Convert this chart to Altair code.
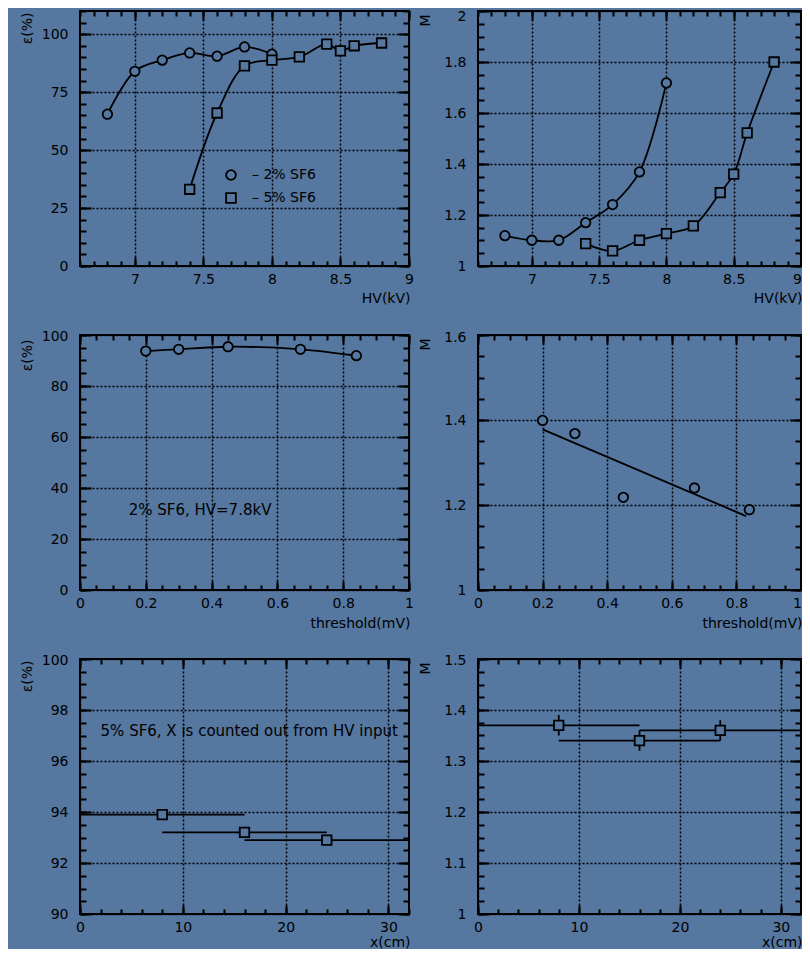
import altair as alt
import pandas as pd

# ---------------- data ----------------
series_names = ["2% SF6", "5% SF6"]

hv_2 = [6.8, 7.0, 7.2, 7.4, 7.6, 7.8, 8.0]
eff_hv_2 = [65.5, 84.0, 88.8, 91.9, 90.5, 94.5, 91.4]
m_hv_2 = [1.119, 1.101, 1.101, 1.170, 1.241, 1.369, 1.718]

hv_5 = [7.4, 7.6, 7.8, 8.0, 8.2, 8.4, 8.5, 8.6, 8.8]
eff_hv_5 = [33.1, 66.0, 86.3, 88.8, 90.2, 95.7, 92.8, 95.0, 96.2]
m_hv_5 = [1.088, 1.059, 1.101, 1.127, 1.157, 1.288, 1.360, 1.522, 1.800]

threshold = [0.2, 0.3, 0.45, 0.67, 0.84]
eff_thr = [93.7, 94.4, 95.4, 94.4, 91.9]
m_thr = [1.399, 1.368, 1.218, 1.240, 1.189]
fit_thr_x = [0.2, 0.83]
fit_thr_m = [1.378, 1.174]

pos_x = [8, 16, 24]
pos_xerr = [8, 8, 8]
eff_pos = [93.9, 93.2, 92.9]
m_pos = [1.370, 1.340, 1.360]
m_pos_err = [0.02, 0.02, 0.02]

note_thr = "2% SF6, HV=7.8kV"
note_thr_at = [0.148, 31.5]
note_pos = "5% SF6, X is counted out from HV input"
note_pos_at = [2.0, 97.16]

# axis ranges and tick values
hv_dom = [6.6, 9.0]
hv_major = [7, 7.5, 8, 8.5, 9]
hv_minor = [round(6.6 + 0.1 * i, 2) for i in range(25)]
eff1_dom = [0, 110]
eff1_major = [0, 25, 50, 75, 100]
eff1_minor = list(range(0, 111, 5))
m1_dom = [1.0, 2.0]
m1_major = [1, 1.2, 1.4, 1.6, 1.8, 2]
m1_minor = [round(1 + 0.05 * i, 3) for i in range(21)]

thr_dom = [0.0, 1.0]
thr_major = [0, 0.2, 0.4, 0.6, 0.8, 1]
thr_minor = [round(0.05 * i, 3) for i in range(21)]
eff3_dom = [0, 100]
eff3_major = [0, 20, 40, 60, 80, 100]
eff3_minor = list(range(0, 101, 5))
m4_dom = [1.0, 1.6]
m4_major = [1, 1.2, 1.4, 1.6]
m4_minor = [round(1 + 0.05 * i, 3) for i in range(13)]

x_dom = [0, 32]
x_major = [0, 10, 20, 30]
x_minor = list(range(0, 33, 2))
eff5_dom = [90, 100]
eff5_major = [90, 92, 94, 96, 98, 100]
eff5_minor = [round(90 + 0.5 * i, 2) for i in range(21)]
m6_dom = [1.0, 1.5]
m6_major = [1, 1.1, 1.2, 1.3, 1.4, 1.5]
m6_minor = [round(1 + 0.025 * i, 4) for i in range(21)]

# ---------------- style ----------------
BG = "#5577a0"
FONT = "DejaVu Sans"
W_LEFT, W_RIGHT, H = 329, 323, 255
MAJ_X, MIN_X, MAJ_Y, MIN_Y = 9, 5, 11, 6
LW = 1.8
LABEL_EXPR = "'' + datum.value"


def main_x_axis(values, title, width, title_gap, right_value, right_shift):
    return alt.Axis(
        orient="bottom", values=values, labelExpr=LABEL_EXPR, title=title,
        offset=-MAJ_X, tickSize=MAJ_X, tickWidth=2, tickColor="black", domain=False,
        grid=True, gridColor="black", gridDash=[2, 2], gridWidth=1.5, gridOpacity=1,
        labelFont=FONT, labelFontSize=14, labelColor="black", labelPadding=6,
        labelFlush=False, labelOverlap=False,
        labelOffset={"condition": {"test": f"datum.value >= {right_value}", "value": right_shift},
                     "value": 0},
        titleFont=FONT, titleFontSize=14, titleFontWeight="normal", titleColor="black",
        titleX=width + 1, titleY=MAJ_X + title_gap, titleAlign="right", titleBaseline="middle",
    )


def main_y_axis(values, title, title_top, top_value, top_shift):
    return alt.Axis(
        orient="left", values=values, labelExpr=LABEL_EXPR, title=title,
        offset=-MAJ_Y, tickSize=MAJ_Y, tickWidth=2, tickColor="black", domain=False,
        grid=True, gridColor="black", gridDash=[2, 2], gridWidth=1.5, gridOpacity=1,
        labelFont=FONT, labelFontSize=14, labelColor="black", labelPadding=12,
        labelOverlap=False, minExtent=0,
        labelOffset={"condition": {"test": f"datum.value >= {top_value}", "value": top_shift},
                     "value": 0},
        titleFont=FONT, titleFontSize=14, titleFontWeight="normal", titleColor="black",
        titleX=-53 - MAJ_Y, titleY=title_top, titleAngle=270, titleAlign="right",
        titleBaseline="middle",
    )


def tick_axis(orient, values, size):
    return alt.Axis(
        orient=orient, values=values, offset=-size, tickSize=size, tickWidth=2,
        tickColor="black", domain=False, grid=False, labels=False, title=None,
        minExtent=0,
    )


def panel(data_layers, width, xdom, ydom, xmaj, xmin, ymaj, ymin, xtitle, ytitle,
          title_gap=32, title_top=2, right_shift=0, top_shift=1):
    xs = alt.Scale(domain=xdom, nice=False, zero=False)
    ys = alt.Scale(domain=ydom, nice=False, zero=False)
    ax_df = pd.DataFrame({"ax": xdom, "ay": ydom})
    base = alt.Chart(ax_df).mark_point(opacity=0)
    axes = [
        base.encode(x=alt.X("ax:Q", scale=xs,
                            axis=main_x_axis(xmaj, xtitle, width, title_gap, xdom[1], right_shift)),
                    y=alt.Y("ay:Q", scale=ys,
                            axis=main_y_axis(ymaj, ytitle, title_top, ydom[1], top_shift))),
        base.encode(x=alt.X("ax:Q", scale=xs, axis=tick_axis("top", xmaj, MAJ_X)),
                    y=alt.Y("ay:Q", scale=ys, axis=tick_axis("right", ymaj, MAJ_Y))),
        base.encode(x=alt.X("ax:Q", scale=xs, axis=tick_axis("bottom", xmin, MIN_X)),
                    y=alt.Y("ay:Q", scale=ys, axis=tick_axis("left", ymin, MIN_Y))),
        base.encode(x=alt.X("ax:Q", scale=xs, axis=tick_axis("top", xmin, MIN_X)),
                    y=alt.Y("ay:Q", scale=ys, axis=tick_axis("right", ymin, MIN_Y))),
    ]
    layers = data_layers(xs, ys)
    return alt.layer(*layers, *axes).resolve_axis(
        x="independent", y="independent"
    ).properties(width=width, height=H)


def X(field, xs):
    return alt.X(field, type="quantitative", scale=xs, axis=None)


def Y(field, ys):
    return alt.Y(field, type="quantitative", scale=ys, axis=None)


def marker(shape=None):
    kw = dict(filled=False, color="black", fill=BG, strokeWidth=LW, size=90, opacity=1)
    if shape:
        kw["shape"] = shape
    return kw


# ---------------- tables ----------------
df_hv = pd.DataFrame({
    "series": [series_names[0]] * len(hv_2) + [series_names[1]] * len(hv_5),
    "hv": hv_2 + hv_5,
    "eff": eff_hv_2 + eff_hv_5,
    "m": m_hv_2 + m_hv_5,
})
df_thr = pd.DataFrame({"thr": threshold, "eff": eff_thr, "m": m_thr})
df_fit = pd.DataFrame({"thr": fit_thr_x, "m": fit_thr_m})
df_pos = pd.DataFrame({"x": pos_x, "xerr": pos_xerr, "eff": eff_pos, "m": m_pos, "merr": m_pos_err})
df_note_thr = pd.DataFrame({"x": [note_thr_at[0]], "y": [note_thr_at[1]], "t": [note_thr]})
df_note_pos = pd.DataFrame({"x": [note_pos_at[0]], "y": [note_pos_at[1]], "t": [note_pos]})

shape_scale = alt.Scale(domain=series_names, range=["circle", "square"])
color_scale = alt.Scale(domain=series_names, range=["black", "black"])
legend_hv = alt.Legend(
    title=None, orient="none", legendX=144, legendY=157, padding=0,
    labelExpr="'\u2013 ' + datum.label", labelFont=FONT, labelFontSize=14, labelColor="black",
    labelOffset=14, rowPadding=5, symbolSize=95, symbolStrokeWidth=LW,
    symbolFillColor=BG, symbolOpacity=1,
)


def layers_p1(xs, ys):
    line = alt.Chart(df_hv).mark_line(interpolate="catmull-rom", color="black", strokeWidth=LW).encode(
        x=X("hv", xs), y=Y("eff", ys), detail="series:N")
    pts = alt.Chart(df_hv).mark_point(**marker()).encode(
        x=X("hv", xs), y=Y("eff", ys),
        shape=alt.Shape("series:N", scale=shape_scale, legend=legend_hv),
        color=alt.Color("series:N", scale=color_scale, legend=legend_hv))
    return [line, pts]


def layers_p2(xs, ys):
    line = alt.Chart(df_hv).mark_line(interpolate="catmull-rom", color="black", strokeWidth=LW).encode(
        x=X("hv", xs), y=Y("m", ys), detail="series:N")
    pts = alt.Chart(df_hv).mark_point(**marker()).encode(
        x=X("hv", xs), y=Y("m", ys),
        shape=alt.Shape("series:N", scale=shape_scale, legend=None))
    return [line, pts]


def layers_p3(xs, ys):
    line = alt.Chart(df_thr).mark_line(interpolate="catmull-rom", color="black", strokeWidth=LW).encode(
        x=X("thr", xs), y=Y("eff", ys))
    pts = alt.Chart(df_thr).mark_point(**marker("circle")).encode(x=X("thr", xs), y=Y("eff", ys))
    txt = alt.Chart(df_note_thr).mark_text(align="left", baseline="middle", font=FONT, fontSize=15,
                                           color="black").encode(x=X("x", xs), y=Y("y", ys), text="t:N")
    return [line, pts, txt]


def layers_p4(xs, ys):
    fit = alt.Chart(df_fit).mark_line(color="black", strokeWidth=LW).encode(x=X("thr", xs), y=Y("m", ys))
    pts = alt.Chart(df_thr).mark_point(**marker("circle")).encode(x=X("thr", xs), y=Y("m", ys))
    return [fit, pts]


def layers_p5(xs, ys):
    err = alt.Chart(df_pos).transform_calculate(
        lo="datum.x - datum.xerr", hi="datum.x + datum.xerr"
    ).mark_rule(color="black", strokeWidth=LW).encode(x=X("lo:Q", xs), x2="hi:Q", y=Y("eff", ys))
    pts = alt.Chart(df_pos).mark_point(**marker("square")).encode(x=X("x", xs), y=Y("eff", ys))
    txt = alt.Chart(df_note_pos).mark_text(align="left", baseline="middle", font=FONT, fontSize=15,
                                           color="black").encode(x=X("x", xs), y=Y("y", ys), text="t:N")
    return [err, pts, txt]


def layers_p6(xs, ys):
    calc = alt.Chart(df_pos).transform_calculate(
        lo="datum.x - datum.xerr", hi="datum.x + datum.xerr",
        mlo="datum.m - datum.merr", mhi="datum.m + datum.merr")
    errx = calc.mark_rule(color="black", strokeWidth=LW).encode(x=X("lo:Q", xs), x2="hi:Q", y=Y("m", ys))
    erry = calc.mark_rule(color="black", strokeWidth=LW).encode(x=X("x", xs), y=Y("mlo:Q", ys), y2="mhi:Q")
    pts = alt.Chart(df_pos).mark_point(**marker("square")).encode(x=X("x", xs), y=Y("m", ys))
    return [errx, erry, pts]


EPS = "\u03b5(%)"
p1 = panel(layers_p1, W_LEFT, hv_dom, eff1_dom, hv_major, hv_minor, eff1_major, eff1_minor, "HV(kV)", EPS, 32, 1)
p2 = panel(layers_p2, W_RIGHT, hv_dom, m1_dom, hv_major, hv_minor, m1_major, m1_minor, "HV(kV)", "M", 32, 3, -4, 5)
p3 = panel(layers_p3, W_LEFT, thr_dom, eff3_dom, thr_major, thr_minor, eff3_major, eff3_minor, "threshold(mV)", EPS, 33, 4)
p4 = panel(layers_p4, W_RIGHT, thr_dom, m4_dom, thr_major, thr_minor, m4_major, m4_minor, "threshold(mV)", "M", 33, 3, -4, 2)
p5 = panel(layers_p5, W_LEFT, x_dom, eff5_dom, x_major, x_minor, eff5_major, eff5_minor, "x(cm)", EPS, 28, 1)
p6 = panel(layers_p6, W_RIGHT, x_dom, m6_dom, x_major, x_minor, m6_major, m6_minor, "x(cm)", "M", 28, 3, -4, 1)

chart = alt.concat(
    p1, p2, p3, p4, p5, p6, columns=2, spacing={"row": 69, "column": 69}, bounds="flush"
).resolve_scale(shape="independent", color="independent").properties(
    background=BG,
    autosize=alt.AutoSizeParams(type="none"),
    padding={"left": 72, "top": 3, "right": 722, "bottom": 938},
).configure(font=FONT).configure_view(stroke="black", strokeWidth=2)

chart.save("out.html", embed_options={"renderer": "svg", "actions": False})
